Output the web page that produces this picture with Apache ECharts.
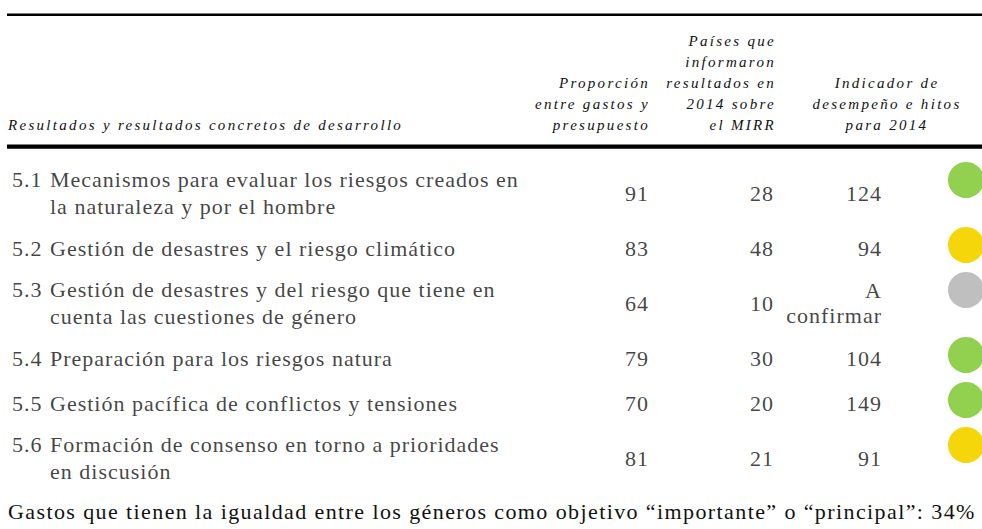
<!DOCTYPE html>
<html>
<head>
<meta charset="utf-8">
<script src="https://cdn.jsdelivr.net/npm/echarts@6/dist/echarts.min.js"></script>
<style>
  html, body { margin: 0; padding: 0; background: #ffffff; }
  #c { width: 982px; height: 529px; }
  #c svg text { letter-spacing: 1px; }
  #c svg text[style*="italic"] { letter-spacing: 2.3px; }
  #c svg text[transform="translate(8 511)"] { letter-spacing: 1.4px; }
</style>
</head>
<body>
<div id="c"></div>
<script>
// ---------- data ----------
const codes = ['5.1', '5.2', '5.3', '5.4', '5.5', '5.6'];
const rowTitles = [
  'Mecanismos para evaluar los riesgos creados en\nla naturaleza y por el hombre',
  'Gestión de desastres y el riesgo climático',
  'Gestión de desastres y del riesgo que tiene en\ncuenta las cuestiones de género',
  'Preparación para los riesgos natura',
  'Gestión pacífica de conflictos y tensiones',
  'Formación de consenso en torno a prioridades\nen discusión'
];
const proporcion = [91, 83, 64, 79, 70, 81];
const paises = [28, 48, 10, 30, 20, 21];
const indicador = ['124', '94', 'A\nconfirmar', '104', '149', '91'];
const estado = ['verde', 'amarillo', 'gris', 'verde', 'verde', 'amarillo'];
const headerLabels = [
  'Resultados y resultados concretos de desarrollo',
  'Proporción\nentre gastos y\npresupuesto',
  'Países que\ninformaron\nresultados en\n2014 sobre\nel MIRR',
  'Indicador de\ndesempeño e hitos\npara 2014'
];
const footerText = 'Gastos que tienen la igualdad entre los géneros como objetivo “importante” o “principal”: 34%';

// ---------- styles / layout ----------
const estadoColor = { verde: '#92D050', amarillo: '#F5D60A', gris: '#BFBFBF' };
const ink = '#111111';
const serif = 'Liberation Serif, serif';
const bodySize = 22;
const col = { label: 12, prop: 649, paises: 774, ind: 882, dot: 966 };

// row geometry derived from the number of text lines in each row
const lineCounts = rowTitles.map(t => t.split('\n').length);
const rowH = lineCounts.map(n => 45 + (n - 1) * 20);
const rowTop = [], rowMid = [];
let acc = 0;
rowH.forEach(h => { rowTop.push(acc); rowMid.push(acc + h / 2); acc += h; });
const totalH = acc;

const chart = echarts.init(document.getElementById('c'), null, { renderer: 'svg' });

function textSeries(name, x, values, opts) {
  return {
    name, type: 'scatter', symbolSize: 0, silent: true, animation: false,
    data: values.map((v, i) => ({ value: [x, rowMid[i]], txt: v })),
    label: Object.assign({
      show: true, position: 'left', distance: 0,
      formatter: p => String(p.data.txt),
      color: ink, fontFamily: serif, fontSize: bodySize, lineHeight: 25
    }, opts || {})
  };
}

const rowLabelData = rowTitles.map((t, i) => {
  const lines = t.split('\n');
  const txt = lines.map((l, k) => '{c|' + (k === 0 ? codes[i] : ' ') + '}{t|' + l + '}').join('\n');
  return { value: [col.label, rowMid[i]], txt };
});

const option = {
  animation: false,
  grid: { left: 0, width: 982, top: 160.5, height: totalH },
  xAxis: { type: 'value', min: 0, max: 982, show: false },
  yAxis: { type: 'value', min: 0, max: totalH, inverse: true, show: false },
  series: [
    {
      name: 'filas', type: 'scatter', symbolSize: 0, silent: true,
      data: rowLabelData,
      label: {
        show: true, position: 'right', distance: 0,
        formatter: p => p.data.txt,
        color: ink, fontFamily: serif, fontSize: bodySize, lineHeight: 27,
        rich: {
          c: { width: 38, color: ink, fontFamily: serif, fontSize: bodySize, lineHeight: 27 },
          t: { color: ink, fontFamily: serif, fontSize: bodySize, lineHeight: 27 }
        }
      }
    },
    textSeries('proporcion', col.prop, proporcion),
    textSeries('paises', col.paises, paises),
    textSeries('indicador', col.ind, indicador),
    {
      name: 'estado', type: 'scatter', symbol: 'circle', symbolSize: 36, silent: true,
      itemStyle: { opacity: 1 },
      data: estado.map((e, i) => ({
        value: [col.dot, rowTop[i] + 19.5],
        itemStyle: { color: estadoColor[e], opacity: 1 }
      }))
    }
  ],
  graphic: [
    { type: 'rect', shape: { x: 7, y: 13.5, width: 980, height: 2.6 }, style: { fill: '#000' } },
    { type: 'rect', shape: { x: 7, y: 144.5, width: 980, height: 4.2 }, style: { fill: '#000' } },
    { type: 'text', x: 8, y: 135, style: { text: headerLabels[0], align: 'left', verticalAlign: 'bottom', textAlign: 'left', textVerticalAlign: 'bottom', font: 'italic 15px ' + serif, lineHeight: 21, fill: ink } },
    { type: 'text', x: 650, y: 135, style: { text: headerLabels[1], align: 'right', verticalAlign: 'bottom', textAlign: 'right', textVerticalAlign: 'bottom', font: 'italic 15px ' + serif, lineHeight: 21, fill: ink } },
    { type: 'text', x: 776, y: 135, style: { text: headerLabels[2], align: 'right', verticalAlign: 'bottom', textAlign: 'right', textVerticalAlign: 'bottom', font: 'italic 15px ' + serif, lineHeight: 21, fill: ink } },
    { type: 'text', x: 887, y: 135, style: { text: headerLabels[3], align: 'center', verticalAlign: 'bottom', textAlign: 'center', textVerticalAlign: 'bottom', font: 'italic 15px ' + serif, lineHeight: 21, fill: ink } },
    { type: 'text', x: 8, y: 511, style: { text: footerText, align: 'left', verticalAlign: 'middle', textAlign: 'left', textVerticalAlign: 'middle', font: bodySize + 'px ' + serif, fill: ink } }
  ]
};
chart.setOption(option);
</script>
</body>
</html>
